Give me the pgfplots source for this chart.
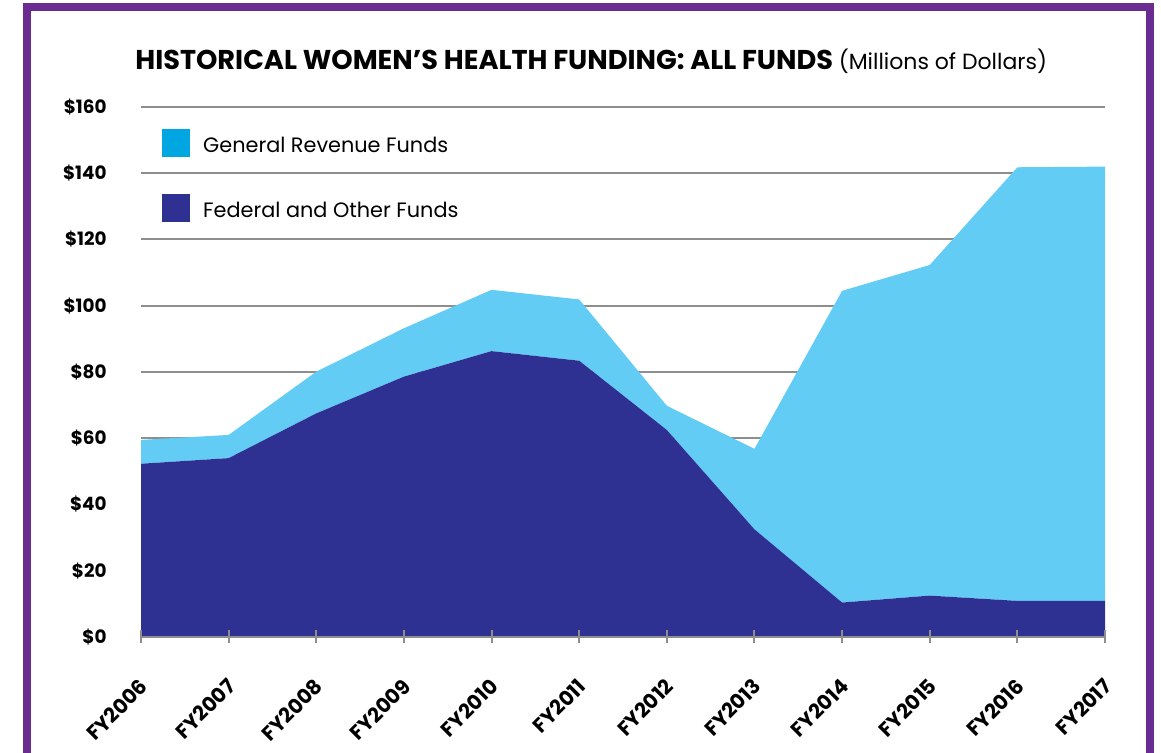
\documentclass[border=0pt]{standalone}
\usepackage{fontspec}
\setmainfont{Poppins}
\usepackage{pgfplots}
\pgfplotsset{compat=1.18}
\definecolor{frame}{HTML}{6A2C91}
\definecolor{fed}{HTML}{2E3192}
\definecolor{grf}{HTML}{62CCF5}
\definecolor{grleg}{HTML}{00A6E2}
\definecolor{gridc}{HTML}{8E8E8E}
\pgfplotsset{
  base/.style={
    at={(70.5pt,58pt)}, anchor=south west,
    scale only axis, width=482pt, height=265pt,
    xmin=0, xmax=11, ymin=0, ymax=160,
    xtick={0,...,11},
    ytick={0,20,...,160},
  }
}
\begin{document}
\begin{tikzpicture}
\path[use as bounding box] (0,0) rectangle (580.5pt,376.5pt);
\begin{axis}[base,
  stack plots=y,
  axis x line*=bottom,
  axis y line*=left,
  axis line style={draw=none},
  tick style={draw=none},
  ymajorgrids,
  grid style={gridc, line width=1pt},
  xticklabels={},
  yticklabels={\$0,\$20,\$40,\$60,\$80,\$100,\$120,\$140,\$160},
  yticklabel style={anchor=east, inner sep=0pt, xshift=-17pt,
    font=\bfseries\fontsize{9.2}{10}\selectfont},
]
\addplot[fill=fed, draw=none] coordinates {
 (0,52.3) (1,54.0) (2,67.5) (3,78.6) (4,86.3) (5,83.4)
 (6,62.5) (7,32.5) (8,10.4) (9,12.5) (10,10.9) (11,10.9)} \closedcycle;
\addplot[fill=grf, draw=none] coordinates {
 (0,7.2) (1,7.0) (2,12.6) (3,14.6) (4,18.5) (5,18.5)
 (6,7.3) (7,24.3) (8,94.1) (9,99.8) (10,130.9) (11,131.1)} \closedcycle;
\end{axis}
\begin{axis}[base,
  axis x line*=bottom,
  axis y line=none,
  x axis line style={draw=gridc, line width=1pt, -},
  xtick style={draw=gridc, line width=1pt},
  major tick length=6.5pt,
  tick align=center,
  xticklabels={FY2006,FY2007,FY2008,FY2009,FY2010,FY2011,FY2012,FY2013,FY2014,FY2015,FY2016,FY2017},
  xticklabel style={xshift=1.5pt, yshift=-19.5pt, rotate=45, anchor=east, inner sep=0pt,
    font=\bfseries\fontsize{10.2}{12}\selectfont},
  legend style={at={(0.0218,0.9585)}, anchor=north west, draw=none, fill=none,
    inner sep=0pt, row sep=18.5pt, column sep=6.5pt,
    font=\fontsize{10.4}{12}\selectfont, nodes={inner sep=0pt}},
  legend cell align=left,
  legend image code/.code={\fill[#1] (0pt,-5.35pt) rectangle (13.5pt,8.15pt);},
]
\addlegendimage{grleg}
\addlegendentry{General Revenue Funds}
\addlegendimage{fed}
\addlegendentry{Federal and Other Funds}
\end{axis}
\node[anchor=base west, inner sep=0pt] at (67.5pt,341.5pt)
  {\fontsize{13.6}{15}\selectfont\bfseries HISTORICAL WOMEN’S HEALTH FUNDING: ALL FUNDS \normalfont\fontsize{11}{13}\selectfont(Millions of Dollars)};
\draw[line width=4pt, color=frame, line join=miter] (13.5pt,-10pt) -- (13.5pt,373pt) -- (575pt,373pt) -- (575pt,-10pt);
\end{tikzpicture}
\end{document}
